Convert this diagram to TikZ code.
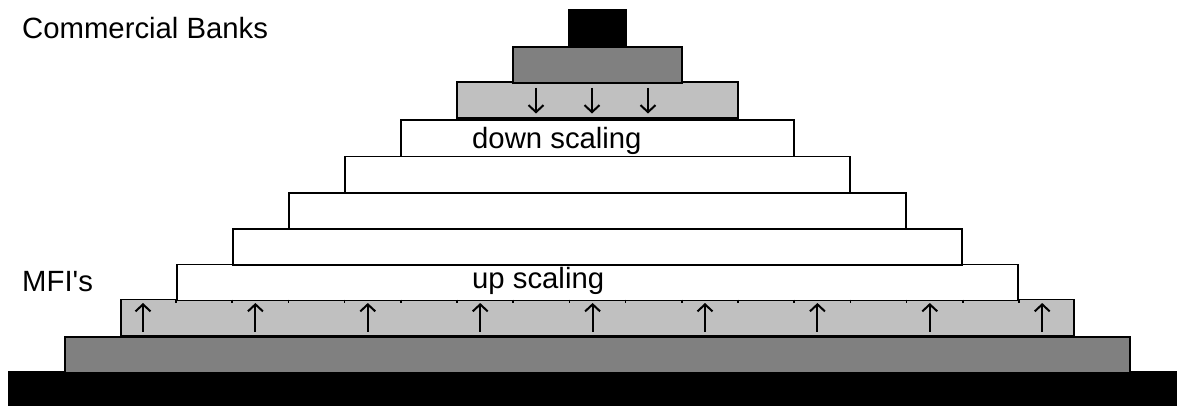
\documentclass[tikz,border=0pt]{standalone}
\usepackage{fontspec}
\setmainfont{Liberation Sans}
\usetikzlibrary{arrows.meta}
\definecolor{darkband}{HTML}{808080}
\definecolor{lightband}{HTML}{C0C0C0}
\tikzset{
  tier/.style={draw=black, line width=1.7pt, inner sep=0pt, outer sep=0pt,
    minimum height=36.2pt, anchor=north},
  label/.style={anchor=base west, inner sep=0pt, font=\fontsize{29.3}{34}\selectfont},
  flow/.style={line width=2pt, -{Straight Barb[length=7pt,width=15pt]}},
  tick/.style={line width=1.5pt}
}
\begin{document}
\begin{tikzpicture}[x=1pt, y=-1pt]
  \useasboundingbox (0,0) rectangle (1177,406);
  \begin{scope}
    \clip (0,0) rectangle (1177,406);
    % pyramid tiers, widest at the bottom
    \node[tier, fill=black,     minimum width=1177pt] (t10) at (597.5, 372.0) {};
    \node[tier, fill=darkband,  minimum width=1065pt] (t9)  at (597.5, 336.8) {};
    \node[tier, fill=lightband, minimum width=953pt]  (t8)  at (597.5, 299.6) {};
    \node[tier, fill=white,     minimum width=841pt]  (t7)  at (597.5, 264.4) {};
    \node[tier, fill=white,     minimum width=729pt]  (t6)  at (597.5, 228.8) {};
    \node[tier, fill=white,     minimum width=617pt]  (t5)  at (597.5, 192.8) {};
    \node[tier, fill=white,     minimum width=505pt]  (t4)  at (597.5, 156.6) {};
    \node[tier, fill=white,     minimum width=393pt]  (t3)  at (597.5, 120.2) {};
    \node[tier, fill=lightband, minimum width=281pt]  (t2)  at (597.5, 82.0) {};
    \node[tier, fill=darkband,  minimum width=169pt]  (t1)  at (597.5, 47.0) {};
    \node[tier, fill=black,     minimum width=57pt, minimum height=37pt] (t0) at (597.5, 10.0) {};
  \end{scope}
  % small marks along the top of the lower light band
  \foreach \k in {0,...,15}
    \draw[tick] (176+56.2*\k, 299.6) -- ++(0,3);
  % downward arrows in the upper light band
  \foreach \xa in {536,592,648}
    \draw[flow] (\xa, 88) -- (\xa, 113.5);
  % upward arrows in the lower light band
  \foreach \k in {0,...,8}
    \draw[flow] (143+112.4*\k, 331.5) -- (143+112.4*\k, 303);
  % labels
  \node[label] (banks) at (22, 39) {Commercial Banks};
  \node[label] (down)  at (472, 148.5) {down scaling};
  \node[label] (mfi)   at (22, 291.5) {MFI\textquotesingle s};
  \node[label] (up)    at (472, 288.5) {up scaling};
\end{tikzpicture}
\end{document}
